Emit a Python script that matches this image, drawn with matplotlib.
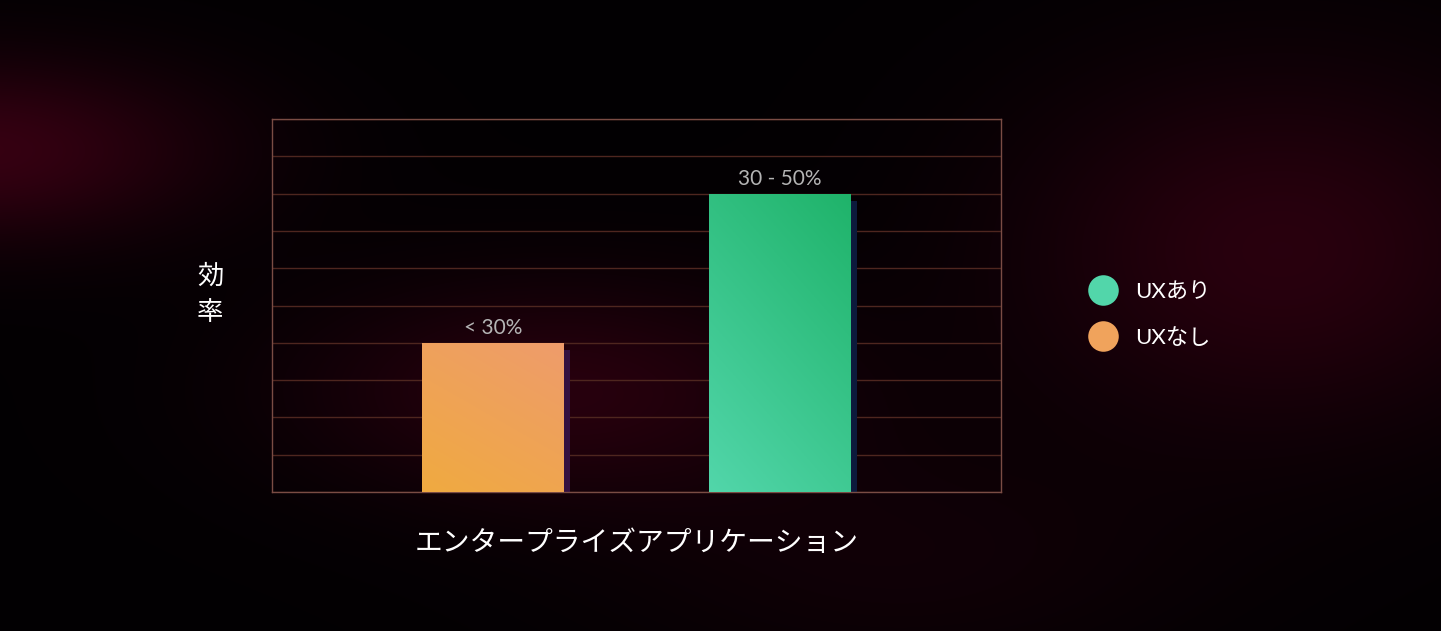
import numpy as np
import matplotlib
matplotlib.use("Agg")
import matplotlib.pyplot as plt
from matplotlib.lines import Line2D

plt.rcParams['font.family'] = ['Noto Sans CJK JP', 'DejaVu Sans']

# data
categories = ['エンタープライズアプリケーション']
series_names = ['UXなし', 'UXあり']
ux_nashi = [40]
ux_ari = [80]
bar_labels_nashi = ['< 30%']
bar_labels_ari = ['30 - 50%']
y_ticks = list(range(0, 101, 10))

col_orange = ('#f0aa40', '#ee9c6c')   # bottom-left, top-right
col_green = ('#52d6aa', '#1fb36a')
shadow_orange = '#341040'
shadow_green = '#0c1a3c'

W, H = 1441, 631
fig = plt.figure(figsize=(W / 100, H / 100), dpi=100, facecolor='black')

# background with dark red glows
bg = fig.add_axes([0, 0, 1, 1])
yy, xx = np.mgrid[0:H, 0:W]
glow = np.zeros((H, W))
for cx, cy, sx, sy, a in [(-20, 150, 230, 90, 1.0), (1280, 250, 260, 180, 0.75),
                          (560, 390, 260, 110, 0.7), (900, 560, 300, 120, 0.25)]:
    glow += a * np.exp(-(((xx - cx) / sx) ** 2 + ((yy - cy) / sy) ** 2))
glow = np.clip(glow, 0, 1)
img = np.zeros((H, W, 3))
img[..., 0] = 0.01 + 0.20 * glow
img[..., 1] = 0.0 + 0.0 * glow
img[..., 2] = 0.01 + 0.06 * glow
bg.imshow(img, extent=[0, W, H, 0], aspect='auto')
bg.set_xlim(0, W)
bg.set_ylim(H, 0)
bg.axis('off')

ax = fig.add_axes([272 / W, (H - 492) / H, 729 / W, 373 / H])
ax.set_facecolor('none')
ax.set_xlim(-0.635, 0.635)
ax.set_ylim(0, 100)
ax.set_yticks(y_ticks)
ax.set_yticklabels([])
ax.tick_params(axis='y', length=0)
ax.grid(axis='y', color='#4e261f', linewidth=1)
ax.set_axisbelow(True)
for s in ax.spines.values():
    s.set_color('#7a4c44')
    s.set_linewidth(1)

x = np.arange(len(categories))
w = 0.246
off = 0.25


def grad_bar(xc, h, cols, shadow):
    ax.bar(xc + 0.012, h - 2, w, color=shadow, zorder=2)
    b = ax.bar(xc, h, w, color=cols[0], zorder=3)[0]
    c0 = np.array(matplotlib.colors.to_rgb(cols[0]))
    c1 = np.array(matplotlib.colors.to_rgb(cols[1]))
    gy, gx = np.mgrid[0:1:100j, 0:1:100j]
    t = 0.35 * gx + 0.65 * gy
    g = c0 + (c1 - c0) * t[..., None]
    im = ax.imshow(g, extent=[xc - w / 2, xc + w / 2, 0, h], origin='lower',
                   aspect='auto', zorder=4)
    im.set_clip_path(b)
    return b


lab_font = ['Lato', 'DejaVu Sans']
for i in range(len(categories)):
    grad_bar(x[i] - off, ux_nashi[i], col_orange, shadow_orange)
    grad_bar(x[i] + off, ux_ari[i], col_green, shadow_green)
    ax.annotate(bar_labels_nashi[i], (x[i] - off, ux_nashi[i]), xytext=(0, 10.5),
                textcoords='offset points', ha='center', va='center',
                color='#b4b4b4', fontsize=15, family=lab_font)
    ax.annotate(bar_labels_ari[i], (x[i] + off, ux_ari[i]), xytext=(0, 10.5),
                textcoords='offset points', ha='center', va='center',
                color='#b4b4b4', fontsize=15, family=lab_font)

ax.set_xticks(x)
ax.set_xticklabels(categories, color='white', fontsize=20)
ax.tick_params(axis='x', length=0, pad=26)

fig.text(210 / W, 1 - 294 / H, '効\n率', color='white', fontsize=19,
         ha='center', va='center', linespacing=1.45)

handles = [Line2D([], [], marker='o', linestyle='none', markersize=22,
                  markerfacecolor=col_green[0], markeredgecolor='none'),
           Line2D([], [], marker='o', linestyle='none', markersize=22,
                  markerfacecolor='#f0a35c', markeredgecolor='none')]
leg = fig.legend(handles, [series_names[1], series_names[0]], loc='center left',
                 bbox_to_anchor=(1061 / W, 1 - 315 / H), frameon=False,
                 labelcolor='white', prop={'size': 16, 'family': ['Lato', 'Noto Sans CJK JP']},
                 handletextpad=0.45, labelspacing=1.15)

fig.savefig('out.png', dpi=100, facecolor='black')
